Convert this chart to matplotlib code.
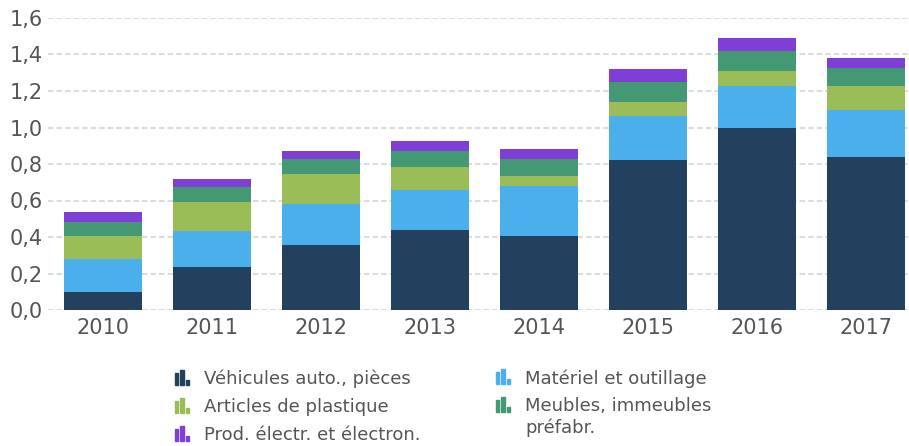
import numpy as np
import matplotlib.pyplot as plt
from matplotlib.patches import Rectangle
from matplotlib.ticker import FuncFormatter

# Donnees
annees = ['2010', '2011', '2012', '2013', '2014', '2015', '2016', '2017']
vehicules = [0.10, 0.236, 0.356, 0.438, 0.405, 0.822, 0.997, 0.838]
materiel = [0.18, 0.197, 0.225, 0.220, 0.274, 0.241, 0.230, 0.258]
plastique = [0.126, 0.159, 0.164, 0.126, 0.055, 0.077, 0.083, 0.131]
meubles = [0.077, 0.082, 0.082, 0.087, 0.093, 0.109, 0.109, 0.099]
electro = [0.055, 0.044, 0.044, 0.055, 0.055, 0.072, 0.071, 0.055]

series = [
    ('Véhicules auto., pièces', vehicules, '#23405f'),
    ('Matériel et outillage', materiel, '#4aafeb'),
    ('Articles de plastique', plastique, '#9abd58'),
    ('Meubles, immeubles\npréfabr.', meubles, '#449874'),
    ('Prod. électr. et électron.', electro, '#7f3ed5'),
]

W, H = 909, 446
fig = plt.figure(figsize=(W / 100, H / 100), dpi=100)
ax = fig.add_axes([48 / W, 136 / H, 861 / W, 292 / H])

x = np.arange(len(annees))
bas = np.zeros(len(annees))
for nom, vals, couleur in series:
    ax.bar(x, vals, width=0.715, bottom=bas, color=couleur, zorder=2)
    bas = bas + np.array(vals)

ax.set_xlim(-0.504, 7.39)
ax.set_ylim(0, 1.6)
ax.set_yticks(np.arange(0, 1.61, 0.2))
ax.yaxis.set_major_formatter(FuncFormatter(lambda v, p: f"{v:.1f}".replace('.', ',')))
ax.set_xticks(x)
ax.set_xticklabels(annees)
ax.yaxis.grid(True, color='#dcdcdc', linestyle=(0, (2.6, 1.5)), linewidth=1.5)
ax.set_axisbelow(True)
for s in ax.spines.values():
    s.set_visible(False)
ax.tick_params(axis='both', length=0, labelsize=15, colors='#555555')
ax.tick_params(axis='y', pad=4)
ax.tick_params(axis='x', pad=6)


# Legende dessinee a la main (icones en forme de petit histogramme)
def icone(x0, y0, couleur):
    for dx, h in [(0, 12), (5.3, 15.5), (10.6, 5.5)]:
        r = Rectangle(((x0 + dx) / W, 1 - y0 / H), 3.4 / W, h / H,
                      transform=fig.transFigure, color=couleur)
        fig.patches.append(r)


positions = [(175, 385), (496, 384), (175, 413), (496, 412), (175, 441)]
for (nom, vals, couleur), (px, py) in zip(series, positions):
    icone(px, py, couleur)
    fig.text((px + 29) / W, 1 - (py - 15) / H, nom, fontsize=13, color='#555555',
             va='top', ha='left', linespacing=1.25)

fig.savefig('out.png', dpi=100)
